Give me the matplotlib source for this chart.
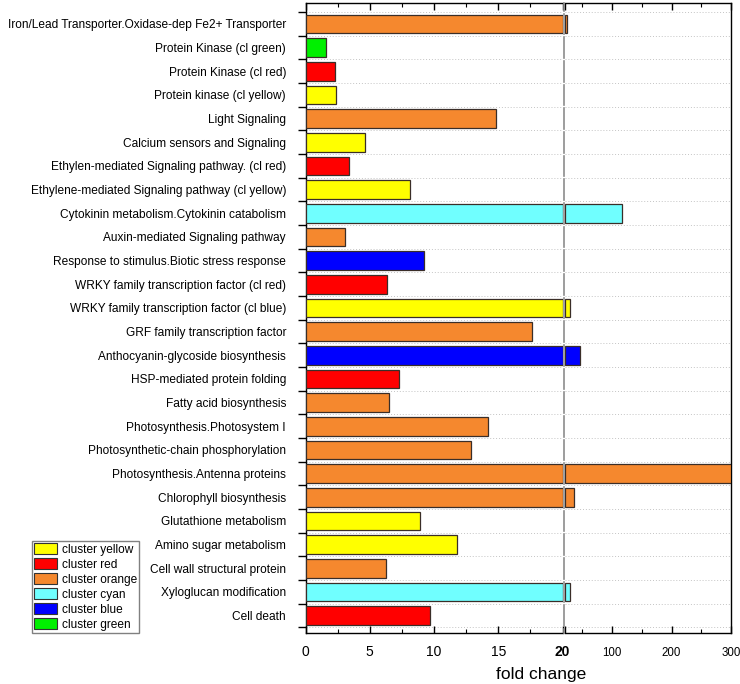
import matplotlib

matplotlib.use("Agg")
import matplotlib.pyplot as plt
import matplotlib.transforms as mtransforms
from matplotlib.patches import Patch

plt.rcParams["font.family"] = ["Liberation Sans", "DejaVu Sans"]

categories = [
    "Iron/Lead Transporter.Oxidase-dep Fe2+ Transporter",
    "Protein Kinase (cl green)",
    "Protein Kinase (cl red)",
    "Protein kinase (cl yellow)",
    "Light Signaling",
    "Calcium sensors and Signaling",
    "Ethylen-mediated Signaling pathway. (cl red)",
    "Ethylene-mediated Signaling pathway (cl yellow)",
    "Cytokinin metabolism.Cytokinin catabolism",
    "Auxin-mediated Signaling pathway",
    "Response to stimulus.Biotic stress response",
    "WRKY family transcription factor (cl red)",
    "WRKY family transcription factor (cl blue)",
    "GRF family transcription factor",
    "Anthocyanin-glycoside biosynthesis",
    "HSP-mediated protein folding",
    "Fatty acid biosynthesis",
    "Photosynthesis.Photosystem I",
    "Photosynthetic-chain phosphorylation",
    "Photosynthesis.Antenna proteins",
    "Chlorophyll biosynthesis",
    "Glutathione metabolism",
    "Amino sugar metabolism",
    "Cell wall structural protein",
    "Xyloglucan modification",
    "Cell death",
]
fold_change = [
    23.7, 1.57, 2.3, 2.35, 14.85, 4.64, 3.36, 8.17, 117, 3.05, 9.24, 6.33, 29.2,
    17.65, 46, 7.24, 6.51, 14.17, 12.87, 300, 35.5, 8.9, 11.76, 6.27, 29.2, 9.68,
]
cluster = [
    "orange", "green", "red", "yellow", "orange", "yellow", "red", "yellow", "cyan",
    "orange", "blue", "red", "yellow", "orange", "blue", "red", "orange", "orange",
    "orange", "orange", "orange", "yellow", "yellow", "orange", "cyan", "red",
]
cluster_names = ["yellow", "red", "orange", "cyan", "blue", "green"]
cluster_colors = {
    "yellow": "#FFFF00",
    "red": "#FF0000",
    "orange": "#F5882E",
    "cyan": "#70FFFF",
    "blue": "#0000FF",
    "green": "#00F000",
}
left_ticks = [0, 5, 10, 15, 20]
right_ticks = [100, 200, 300]
break_at = 20
x_max = 300

W, H = 740, 684
fig = plt.figure(figsize=(W / 100, H / 100), dpi=100)

top, bottom = 3, 632.7
ax_l = fig.add_axes([305.5 / W, 1 - bottom / H, (562.5 - 305.5) / W, (bottom - top) / H])
ax_r = fig.add_axes([564.5 / W, 1 - bottom / H, (731 - 564.5) / W, (bottom - top) / H])

pos = list(range(len(categories)))
colors = [cluster_colors[c] for c in cluster]
edge = "#3a2e28"
bar_h = 0.8

ax_l.barh(pos, [min(v, break_at) for v in fold_change], height=bar_h,
          color=colors, edgecolor=edge, linewidth=0.9, zorder=3)
big = [i for i, v in enumerate(fold_change) if v > break_at]
ax_r.barh([pos[i] for i in big], [fold_change[i] - break_at for i in big],
          left=break_at, height=bar_h, color=[colors[i] for i in big],
          edgecolor=edge, linewidth=0.9, zorder=3)

ylim = (len(categories) - 1 + 0.72, -0.887)
bounds = [p - 0.5 for p in pos] + [pos[-1] + 0.5]
for ax in (ax_l, ax_r):
    ax.set_ylim(*ylim)
    for b in bounds:
        ax.axhline(b, color="#c4c4c4", linewidth=0.7, linestyle=(0, (1, 2)), zorder=1)
    for s in ax.spines.values():
        s.set_linewidth(1.0)
        s.set_color("black")

ax_l.set_xlim(0, break_at)
ax_r.set_xlim(break_at, x_max)
ax_l.spines["right"].set_visible(False)
ax_r.spines["left"].set_visible(False)

# y axis: labels at centres, ticks at row boundaries
ax_l.set_yticks(pos)
ax_l.set_yticklabels(categories, fontsize=8.6)
ax_l.tick_params(axis="y", which="major", length=0, pad=14)
ax_l.set_yticks(bounds, minor=True)
ax_l.tick_params(axis="y", which="minor", length=6, width=1.0, direction="out")
ax_r.tick_params(axis="y", which="both", left=False, labelleft=False)

ax_l.set_xticks(left_ticks)
ax_l.set_xticklabels([str(t) for t in left_ticks], fontsize=10)
ax_l.get_xticklabels()[-1].set_fontweight("bold")
ax_l.set_xticks([t + 2.5 for t in left_ticks[:-1]], minor=True)
ax_r.set_xticks([break_at] + right_ticks)
ax_r.set_xticklabels([""] + [str(t) for t in right_ticks], fontsize=8.3)
ax_r.set_xticks([t - 50 for t in right_ticks], minor=True)
for ax in (ax_l, ax_r):
    ax.tick_params(axis="x", which="major", direction="in", length=5, width=1.0,
                   top=True, pad=9)
    ax.tick_params(axis="x", which="minor", direction="in", length=3, width=0.8,
                   top=True)
ax_r.tick_params(axis="x", which="major", pad=10)

# broken-axis marker: gray dashed line with gaps at row boundaries
trans = mtransforms.blended_transform_factory(fig.transFigure, ax_l.transData)
xb = 563.5 / W
gap = 0.07
edges = [ylim[1]] + bounds + [ylim[0]]
for a, b in zip(edges[:-1], edges[1:]):
    y0 = a + (gap if a in bounds else 0)
    y1 = b - (gap if b in bounds else 0)
    if y1 > y0:
        fig.add_artist(plt.Line2D([xb, xb], [y0, y1], transform=trans,
                                  color="#8c8c8c", linewidth=1.2))

fig.text(541 / W, 1 - 675 / H, "fold change", ha="center", va="center", fontsize=12.5)

handles = [Patch(facecolor=cluster_colors[n], edgecolor="#333333", linewidth=0.8)
           for n in cluster_names]
fig.legend(handles, [f"cluster {n}" for n in cluster_names],
           loc="upper left", bbox_to_anchor=(31.7 / W, 1 - 540.7 / H),
           fontsize=8.6, frameon=True, fancybox=False, edgecolor="#808080",
           framealpha=1, handlelength=1.95, handleheight=1.05, handletextpad=0.35,
           labelspacing=0.2, borderpad=0.2, borderaxespad=0)

fig.savefig("out.png", dpi=100)
